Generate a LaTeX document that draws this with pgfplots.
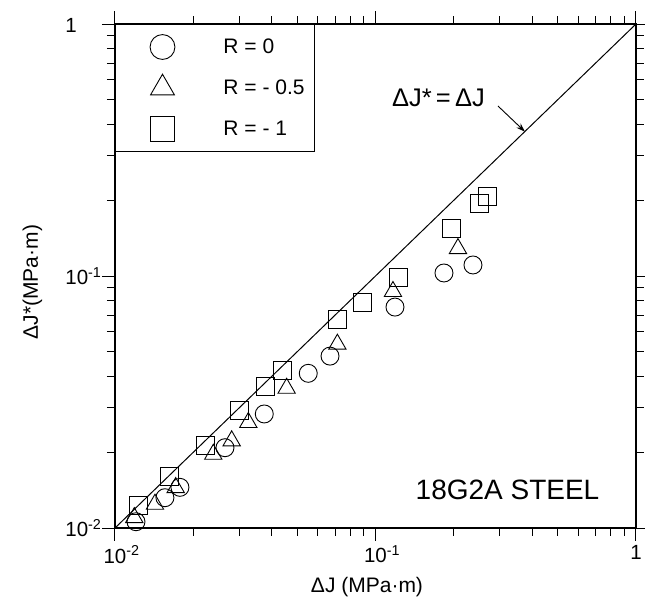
\documentclass[border=0pt]{standalone}
\usepackage{fontspec}
\setmainfont{Liberation Sans}
\usepackage{pgfplots}
\pgfplotsset{compat=1.18}
\usetikzlibrary{arrows.meta}

% Fatigue J-integral data, 18G2A steel: (Delta J, Delta J*)
\pgfplotstableread{
x y
0.01204 0.01059
0.01555 0.01319
0.01776 0.01450
0.02644 0.02083
0.03742 0.02835
0.05520 0.04110
0.06690 0.04810
0.11880 0.07530
0.18320 0.10280
0.23670 0.11060
}\Rzero
\pgfplotstableread{
x y
0.01186 0.01100
0.01424 0.01243
0.01710 0.01447
0.02384 0.01962
0.02805 0.02218
0.03250 0.02622
0.04560 0.03586
0.07140 0.05364
0.11670 0.08680
0.20730 0.12850
}\Rhalf
\pgfplotstableread{
x y
0.01229 0.01234
0.01616 0.01598
0.02216 0.02121
0.03000 0.02940
0.03790 0.03660
0.04390 0.04210
0.07160 0.06730
0.08880 0.07890
0.12200 0.09910
0.19490 0.15500
0.24960 0.19480
0.26800 0.20770
}\Rone

\begin{document}
\begin{tikzpicture}
\begin{axis}[
  name=ax,
  xmode=log, ymode=log,
  scale only axis,
  width=521pt, height=504pt,
  xmin=0.01, xmax=1, ymin=0.01, ymax=1,
  clip=false,
  axis line style={line width=1.1pt},
  every tick/.style={black, line width=1pt},
  tick align=outside,
  major tick length=13pt,
  minor tick length=8pt,
  xtick={0.01,0.1,1}, ytick={0.01,0.1,1},
  xticklabels={10\rlap{\textsuperscript{-2}}, 10\rlap{\textsuperscript{-1}}, 1},
  yticklabels={10\textsuperscript{-2}, 10\textsuperscript{-1}, 1\phantom{0\textsuperscript{-1}}},
  ticklabel style={font=\fontsize{20.5}{20.5}\selectfont},
  xticklabel style={anchor=north, yshift=-1pt},
  yticklabel style={anchor=east, xshift=3pt},
  xlabel={ΔJ (MPa·m)},
  ylabel={ΔJ*(MPa·m)},
  label style={font=\fontsize{21}{21}\selectfont},
  xlabel style={at={(rel axis cs:0.4837,0)}, anchor=base, yshift=-64pt},
  ylabel style={at={(rel axis cs:0,0.488)}, anchor=base, rotate=0, yshift=77pt},
  legend style={at={(0,1)}, anchor=north west, draw=black, line width=1pt,
    inner xsep=10pt, inner ysep=2pt, row sep=0pt, column sep=0pt,
    font=\fontsize{21}{21}\selectfont,
    /tikz/every odd column/.append style={column sep=14pt},
    nodes={inner sep=0pt, anchor=west, draw=none}},
  legend cell align=left,
  legend image code/.code={%
    \path[draw=none, fill=none] (0pt,-20.5pt) rectangle (84pt,20.5pt);
    \draw[#1, /tikz/every mark/.append style={scale=1.38}] plot coordinates {(37pt,0pt)};},
]
\addplot[black, line width=1pt, forget plot] coordinates {(0.01,0.01) (1,1)};
\addplot[only marks, mark=o, mark size=9pt, mark options={line width=0.9pt, black}] table {\Rzero};
\addlegendentry{R = 0}
\addplot[only marks, mark=triangle, mark size=10pt, mark options={line width=0.9pt, black}] table {\Rhalf};
\addlegendentry{R = - 0.5}
\addplot[only marks, mark=square, mark size=9pt, mark options={line width=0.9pt, black}] table {\Rone};
\addlegendentry{R = - 1}

\node[anchor=base, font=\fontsize{25.5}{25.5}\selectfont] at (rel axis cs:0.6209,0.8373) {ΔJ*\,=\,ΔJ};
\draw[line width=0.9pt, -{Stealth[length=9pt,width=6pt]}] (rel axis cs:0.7351,0.8373) -- (rel axis cs:0.7869,0.7863);
\node[anchor=base, font=\fontsize{28}{28}\selectfont] at (rel axis cs:0.7534,0.0575) {18G2A STEEL};
\end{axis}
\pgfresetboundingbox
\path[use as bounding box] ([shift={(-115pt,-69pt)}]ax.south west) rectangle ([shift={(9pt,24pt)}]ax.north east);
\end{tikzpicture}
\end{document}
